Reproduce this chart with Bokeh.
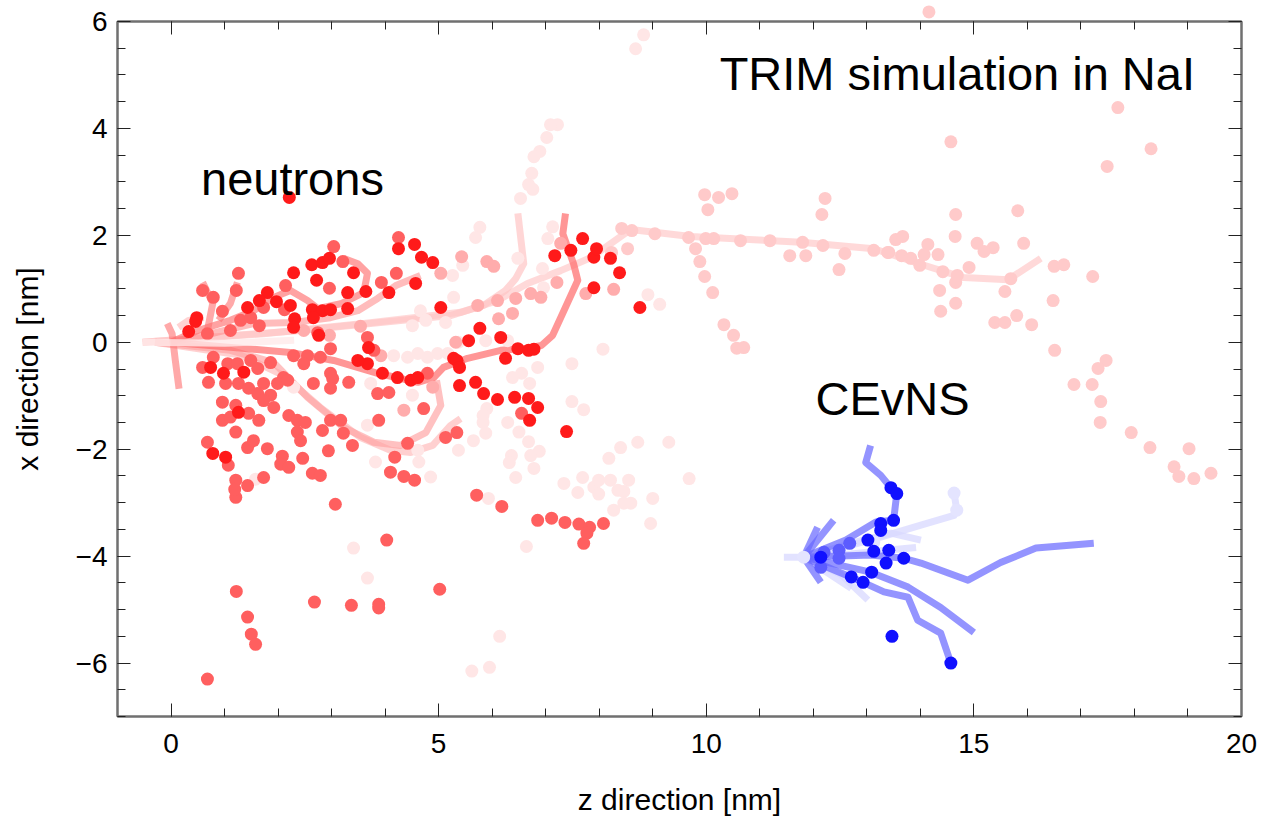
from bokeh.plotting import figure
from bokeh.models import Range1d, LinearAxis, FixedTicker, Label
from bokeh.embed import file_html
from bokeh.resources import INLINE

FONT = "Liberation Sans"

# ---------------------------------------------------------------- neutron recoils
# recoil positions (z, x) in nm, grouped by shade of the cascade they belong to
neutron_dark = [
    (4.25, 1.75), (4.55, 1.83), (4.68, 1.59), (4.89, 1.49), (2.63, 1.45), (2.83, 1.49),
    (2.96, 1.57), (3.41, 1.30), (2.29, 1.30), (2.72, 1.16), (3.30, 0.93), (3.64, 0.95),
    (4.07, 0.93), (4.57, 1.10), (1.80, 0.93), (1.65, 0.78), (1.97, 0.76), (2.23, 0.69),
    (1.43, 0.65), (2.64, 0.61), (2.83, 0.59), (2.98, 0.61), (3.30, 0.63), (2.66, 0.46),
    (2.31, 0.44), (0.48, 0.46), (0.46, 0.39), (0.33, 0.20), (2.76, 0.13), (3.69, -0.10),
    (5.28, -0.30), (3.95, -0.58), (4.23, -0.66), (4.48, -0.71), (4.61, -0.66), (3.67, -0.40),
    (3.49, -0.34), (0.74, -0.47), (0.98, -0.58), (1.36, -0.56), (1.26, -1.31), (0.78, -2.08),
    (1.02, -2.15), (5.04, 0.65), (5.77, 0.26), (5.56, 0.03), (5.34, -0.34), (5.39, -0.47),
    (5.39, -0.81), (6.48, -0.12), (6.68, -0.15), (6.78, -0.13), (5.69, -0.75), (5.84, -0.96),
    (6.10, -1.07), (6.42, -1.03), (6.68, -1.05), (6.85, -1.22), (6.70, -1.46), (7.17, 1.62),
    (7.47, 1.72), (7.90, 1.59), (8.21, 1.57), (8.38, 1.30), (7.90, 1.02), (8.76, 0.65),
    (7.39, -1.67), (7.69, 1.94), (7.95, 1.75), (6.16, 0.09), (6.25, -0.30), (2.21, 2.71),
    (2.29, 0.28),
]
neutron_medium = [
    (4.25, 1.96), (3.04, 1.79), (3.21, 1.51), (2.96, 1.01), (4.21, 1.29), (3.93, 1.12),
    (1.26, 1.29), (1.22, 0.97), (0.59, 0.97), (0.79, 0.84), (2.14, 1.06), (1.73, 0.65),
    (2.12, 0.61), (0.96, 0.58), (1.30, 0.41), (1.49, 0.46), (1.65, 0.31), (0.68, 0.16),
    (1.11, 0.22), (2.74, 0.18), (3.67, 0.09), (3.79, -0.15), (5.37, -0.40), (4.79, -0.58),
    (3.86, -0.96), (4.07, -0.94), (2.98, -0.12), (2.79, -0.28), (2.55, -0.25), (2.29, -0.25),
    (2.48, -0.40), (2.98, -0.58), (3.02, -0.68), (3.32, -0.75), (2.66, -0.77), (2.98, -0.86),
    (0.59, -0.47), (0.79, -0.28), (1.06, -0.40), (1.24, -0.40), (1.49, -0.34), (1.62, -0.49),
    (1.86, -0.38), (2.10, -0.66), (1.73, -0.77), (1.99, -0.77), (2.18, -0.71), (0.70, -0.75),
    (1.02, -0.77), (1.26, -0.77), (1.45, -0.86), (1.62, -0.96), (1.86, -0.99), (1.73, -1.09),
    (0.96, -1.12), (1.21, -1.18), (1.45, -1.33), (1.64, -1.46), (1.92, -1.22), (2.20, -1.37),
    (2.36, -1.46), (2.51, -1.50), (2.83, -1.65), (2.98, -1.46), (3.17, -1.46), (3.22, -1.70),
    (3.39, -1.93), (0.96, -1.46), (1.11, -1.40), (1.21, -1.68), (0.68, -1.87), (1.07, -2.30),
    (1.43, -1.97), (1.54, -1.84), (1.80, -1.99), (2.36, -1.68), (2.42, -1.84), (2.08, -2.13),
    (2.05, -2.28), (2.20, -2.34), (2.46, -2.17), (2.64, -2.45), (2.79, -2.49), (1.21, -2.58),
    (1.43, -2.68), (1.73, -2.53), (1.21, -2.90), (1.19, -2.75), (2.94, -2.03), (3.88, -1.46),
    (4.18, -2.15), (4.10, -2.43), (4.35, -2.51), (4.55, -2.58), (4.42, -1.89), (5.13, -1.78),
    (5.34, -1.69), (4.72, -1.24), (5.71, -2.86), (6.18, -3.07), (6.85, -3.33), (7.11, -3.29),
    (7.36, -3.37), (7.62, -3.40), (7.82, -3.46), (7.77, -3.57), (7.71, -3.76), (8.08, -3.39),
    (3.07, -3.03), (4.03, -3.70), (5.02, -4.62), (1.22, -4.66), (1.43, -5.14), (1.50, -5.46),
    (1.58, -5.65), (0.68, -6.30), (2.68, -4.86), (3.37, -4.92), (3.88, -4.90), (3.88, -4.97),
    (6.55, -1.33),
]
neutron_medium_far = [(-2.05, -2.19), (-1.73, -2.11)]
neutron_salmon = [
    (5.04, 1.29), (5.43, 1.60), (5.90, 1.51), (6.03, 1.42), (5.73, 0.69), (6.10, 0.78),
    (6.38, 0.54), (6.72, 0.91), (6.44, 0.82), (6.12, 0.44), (6.91, 0.84), (7.21, 1.12),
    (7.75, 0.91), (8.27, 0.99), (7.28, 1.85), (2.96, 0.13), (2.48, 0.22), (3.54, 0.30),
    (3.92, -0.25), (5.32, 0.00), (4.35, -1.27), (4.89, -0.84),
]
neutron_pink = [
    (8.23, 1.68), (8.53, 1.75), (8.42, 2.13), (8.61, 2.09), (9.04, 2.03), (9.67, 1.96),
    (9.99, 1.94), (10.14, 1.94), (10.64, 1.90), (11.19, 1.90), (11.80, 1.87), (12.18, 1.81),
    (13.13, 1.72), (13.41, 1.68), (9.80, 1.75), (9.88, 1.51), (9.97, 1.23), (10.12, 0.93),
    (10.33, 0.33), (10.51, 0.13), (10.57, -0.11), (10.70, -0.10), (9.97, 2.76), (10.23, 2.71),
    (10.48, 2.78), (10.03, 2.48), (12.22, 2.69), (12.16, 2.39), (11.56, 1.62), (11.86, 1.62),
    (12.59, 1.66), (12.48, 1.36), (13.54, 1.92), (14.57, 3.75), (17.69, 4.39), (18.31, 3.62),
    (17.49, 3.29), (14.66, 2.39), (15.82, 2.46), (14.65, 1.98), (15.93, 1.85), (15.06, 1.85),
    (15.36, 1.77), (15.19, 1.70), (13.67, 1.98), (13.39, 1.68), (13.65, 1.62), (13.82, 1.57),
    (14.14, 1.83), (14.07, 1.64), (14.33, 1.64), (13.99, 1.44), (14.42, 1.32), (14.69, 1.25),
    (14.91, 1.40), (16.50, 1.42), (16.68, 1.45), (17.22, 1.23), (15.69, 1.19), (14.36, 0.97),
    (14.66, 1.12), (14.38, 0.58), (14.66, 0.73), (15.58, 0.95), (15.39, 0.37), (15.58, 0.37),
    (15.80, 0.50), (16.08, 0.33), (16.48, 0.78), (16.51, -0.15), (17.47, -0.34), (17.32, -0.49),
    (16.87, -0.79), (17.21, -0.79), (17.37, -1.11), (17.36, -1.50), (17.94, -1.69), (18.29, -1.97),
    (19.02, -1.99), (18.74, -2.33), (18.83, -2.51), (19.11, -2.55), (19.43, -2.45),
]
neutron_pink_far = [(14.16, 6.18)]
neutron_pale = [
    (8.83, 5.75), (8.68, 5.49), (7.22, 4.07), (7.09, 4.07), (7.02, 3.83), (6.89, 3.57),
    (6.78, 3.47), (6.74, 3.16), (6.68, 2.95), (6.76, 2.86), (6.53, 2.69), (5.77, 2.15),
    (5.69, 1.96), (5.45, 1.44), (6.48, 1.57), (7.13, 2.16), (7.04, 1.94), (5.28, 0.84),
    (6.96, 1.02), (6.94, 1.38), (8.91, 0.89), (9.13, 0.71), (5.37, 0.00), (5.88, 0.03),
    (6.29, 0.03), (6.85, -0.47), (6.55, -0.58), (6.38, -0.66), (6.70, -0.77), (7.49, -0.40),
    (8.07, -0.13), (7.49, -1.11), (7.71, -1.26), (8.40, -1.97), (8.72, -1.87), (9.30, -1.87),
    (8.18, -2.17), (7.34, -2.64), (7.69, -2.53), (7.60, -2.81), (7.90, -2.71), (7.99, -2.58),
    (8.21, -2.58), (8.55, -2.58), (8.35, -2.77), (8.46, -2.79), (7.99, -2.84), (8.46, -3.01),
    (8.59, -3.01), (8.27, -3.14), (9.00, -2.92), (8.96, -3.39), (9.68, -2.55), (6.68, -1.86),
    (6.88, -2.04), (6.72, -2.12), (6.36, -2.12), (6.32, -2.25), (6.78, -2.36), (6.44, -2.53),
    (5.90, -1.24), (5.83, -1.37), (5.83, -1.50), (6.29, -1.50), (6.50, -1.68), (5.88, -1.70),
    (5.65, -1.84), (5.37, -2.02), (5.93, -2.92), (6.14, -5.50), (5.95, -6.08), (5.62, -6.15),
    (3.41, -3.85), (3.67, -4.41), (6.64, -3.82), (4.16, -0.25), (4.42, -0.28), (4.61, -0.21),
    (4.79, -0.28), (4.98, -0.21), (5.17, -0.21), (3.73, -0.77), (4.51, -0.99), (3.67, -1.55),
    (3.82, -2.24), (4.61, -2.02), (4.63, -2.24), (4.85, -2.52), (1.58, -2.56), (2.29, -0.84),
    (5.26, 1.25), (4.66, 0.59), (4.76, 0.41), (5.13, 0.37), (4.51, 0.31),
]
neutron_pale_far = [(5.97, -7.79)]

# primary ion paths of the neutron-induced cascades, (z, x) vertices in nm
track_lower = [(0.0, 0.0), (1.17, -0.10), (2.23, -0.19), (3.04, -0.34), (3.86, -0.58),
               (4.61, -0.75), (4.91, -0.66), (5.09, -0.47), (5.54, -0.30), (6.16, -0.15),
               (6.66, -0.11), (6.92, -0.06), (7.13, 0.13), (7.34, 0.59), (7.60, 1.16),
               (7.52, 1.47), (7.32, 2.03), (7.37, 2.41)]
track_loop_a = [(-0.3, 0.0), (1.11, -0.15), (1.92, -0.38), (2.55, -1.03), (3.22, -1.59),
                (3.79, -1.87), (4.29, -1.93), (4.76, -1.69), (5.04, -1.18), (4.96, -0.71)]
track_loop_b = [(-0.3, 0.0), (1.30, -0.24), (2.10, -0.62), (2.79, -1.22), (3.54, -1.78),
                (4.10, -2.02), (4.48, -2.06), (4.89, -1.93), (5.22, -1.56), (5.41, -1.43)]
track_upper = [(0.0, 0.0), (0.50, 0.22), (1.11, 0.41), (1.54, 0.59), (1.92, 0.84),
               (2.23, 0.97), (2.55, 0.78), (2.74, 0.63), (3.17, 0.72), (3.60, 0.93),
               (3.67, 1.29), (3.49, 1.47), (3.22, 1.57)]
track_mid = [(0.0, 0.0), (0.74, 0.16), (1.54, 0.35), (2.29, 0.37), (2.98, 0.46),
             (3.49, 0.59), (3.86, 0.82), (4.20, 1.06), (4.66, 1.25)]
track_long = [(-0.53, 0.0), (1.73, 0.16), (3.60, 0.35), (5.41, 0.56), (6.10, 0.78),
              (6.66, 1.10), (7.28, 1.34), (7.84, 1.58), (8.59, 2.11), (9.71, 1.98),
              (11.77, 1.87), (13.13, 1.75), (14.07, 1.44), (14.81, 1.21), (15.64, 1.17),
              (16.25, 1.57)]
track_rise = [(-0.53, 0.0), (2.42, 0.22), (5.22, 0.50), (5.84, 0.69), (6.25, 0.97),
              (6.44, 1.19), (6.59, 1.47), (6.48, 2.41)]
track_entry = [(-0.53, 0.0), (1.0, -0.02), (2.3, 0.04)]
spike_a = [(-0.07, 0.35), (0.02, 0.16), (0.08, -0.34), (0.15, -0.87)]
spike_b = [(0.59, 1.12), (0.78, 0.73), (0.68, 0.22)]
spike_c = [(1.24, 1.12), (1.11, 0.73), (0.89, 0.41)]
spike_d = [(0.14, 0.28), (0.33, 0.41), (0.61, 0.46)]

# ---------------------------------------------------------------- CEvNS recoils
cevns_tracks = [
    [(11.82, -4.02), (12.61, -3.70), (13.17, -3.36), (13.50, -3.33), (13.56, -2.83),
     (13.45, -2.72), (13.26, -2.49), (12.98, -2.25), (13.07, -1.93)],
    [(11.82, -4.02), (13.07, -3.98), (13.69, -4.04), (14.01, -4.13), (14.89, -4.45),
     (15.50, -4.12), (16.16, -3.85), (17.24, -3.76)],
    [(11.82, -4.02), (13.07, -4.30), (13.77, -4.58), (14.38, -4.96), (15.00, -5.43)],
    [(11.82, -4.02), (12.93, -4.49), (13.32, -4.67), (13.77, -4.77), (13.95, -5.20),
     (14.38, -5.44), (14.57, -6.00)],
    [(11.82, -4.02), (12.08, -3.46)],
    [(11.82, -4.02), (12.38, -3.33)],
    [(11.82, -4.02), (12.14, -4.49)],
]
cevns_faint_tracks = [
    [(11.45, -4.02), (11.82, -4.02), (13.07, -3.70), (14.01, -3.42), (14.63, -3.24),
     (14.68, -3.14), (14.63, -2.82)],
    [(11.82, -4.02), (12.71, -3.96), (13.26, -3.90), (13.92, -3.84)],
    [(11.82, -4.02), (12.51, -4.34), (13.02, -4.82)],
    [(11.82, -4.02), (12.93, -3.70), (13.45, -3.57), (14.01, -3.70)],
    [(11.82, -4.02), (12.71, -4.60)],
]
cevns_dark = [
    (13.45, -2.72), (13.56, -2.83), (13.50, -3.33), (13.26, -3.39), (13.26, -3.52),
    (13.02, -3.70), (13.41, -3.89), (13.13, -3.91), (13.36, -4.13), (13.69, -4.04),
    (12.14, -4.02), (12.71, -4.39), (12.93, -4.49), (13.09, -4.30), (13.47, -5.50),
    (14.57, -6.00),
]
cevns_medium = [(12.68, -3.76), (12.48, -3.89), (12.48, -4.04), (12.20, -3.93), (12.14, -4.21)]
cevns_pale = [(11.82, -4.02), (13.13, -3.74), (14.63, -2.82), (14.68, -3.14)]

x_major = [0, 5, 10, 15, 20]
x_minor = list(range(-1, 21))
y_major = [-6, -4, -2, 0, 2, 4, 6]
y_minor = [v / 2 for v in range(-14, 13)]


def split(pairs):
    return [p[0] for p in pairs], [p[1] for p in pairs]


p = figure(width=1281, height=832, x_range=Range1d(-1, 20), y_range=Range1d(-7, 6),
           output_backend="svg", toolbar_location=None,
           min_border_left=117, min_border_right=40, min_border_top=21, min_border_bottom=116)
p.background_fill_color = "white"
p.border_fill_color = "white"
p.xgrid.grid_line_color = None
p.ygrid.grid_line_color = None
p.outline_line_color = "#707070"
p.outline_line_width = 2

xt = FixedTicker(ticks=x_major, minor_ticks=x_minor)
yt = FixedTicker(ticks=y_major, minor_ticks=y_minor)


def style_axis(ax, ticker, show_labels):
    ax.ticker = ticker
    ax.axis_line_color = "#707070"
    ax.axis_line_width = 2
    ax.major_tick_in = 13
    ax.major_tick_out = 0
    ax.minor_tick_in = 8
    ax.minor_tick_out = 0
    ax.major_tick_line_color = "#222222"
    ax.minor_tick_line_color = "#222222"
    ax.major_tick_line_width = 1
    ax.minor_tick_line_width = 1
    if show_labels:
        ax.major_label_text_font = FONT
        ax.major_label_text_font_size = "28px"
        ax.major_label_text_color = "black"
        ax.axis_label_text_font = FONT
        ax.axis_label_text_font_size = "30px"
        ax.axis_label_text_font_style = "normal"
        ax.axis_label_text_color = "black"
    else:
        # mirrored frame axis: ticks only
        ax.major_label_overrides = {t: "" for t in ticker.ticks}
        ax.major_label_text_font_size = "0px"
        ax.major_label_standoff = 0


style_axis(p.xaxis[0], xt, True)
style_axis(p.yaxis[0], yt, True)
p.xaxis[0].axis_label = "z direction [nm]"
p.yaxis[0].axis_label = "x direction [nm]"
p.xaxis[0].major_label_standoff = 17
p.xaxis[0].axis_label_standoff = 27
p.yaxis[0].major_label_standoff = 10
p.yaxis[0].axis_label_standoff = 29
p.yaxis[0].major_label_overrides = {-6: "\u22126", -4: "\u22124", -2: "\u22122"}

top_axis = LinearAxis()
style_axis(top_axis, xt, False)
p.add_layout(top_axis, "above")
right_axis = LinearAxis()
style_axis(right_axis, yt, False)
p.add_layout(right_axis, "right")

LW = 7


def path(pts, color, alpha, width=LW):
    zs, xs = split(pts)
    p.line(zs, xs, line_color=color, line_alpha=alpha, line_width=width,
           line_cap="butt", line_join="round")


# neutron cascades: faint paths under the recoils
path(track_long, "#ffd0d0", 0.8)
path(track_rise, "#ffc4c4", 0.7)
path(track_loop_b, "#ffb0b0", 0.6)
path(track_loop_a, "#ffa0a0", 0.65)
path(track_mid, "#ff9090", 0.6)
path(track_upper, "#ff7070", 0.65)
path(track_lower, "#ff6a6a", 0.7)
for s in (spike_a, spike_b, spike_c):
    path(s, "#ff7070", 0.6)
path(spike_d, "#ffc0c0", 0.7)

DOT = 13


def dots(pts, color, **kw):
    zs, xs = split(pts)
    p.scatter(zs, xs, size=DOT, fill_color=color, line_color=None, **kw)


dots(neutron_pale, "#ffe6e6")
dots(neutron_pink, "#ffcaca")
dots(neutron_salmon, "#ffacac")
dots(neutron_medium, "#ff5f5f")
dots(neutron_dark, "#ff1a1a")
dots(neutron_pale_far, "#ffe6e6", level="overlay")
dots(neutron_pink_far, "#ffcaca", level="overlay")
dots(neutron_medium_far, "#ff5f5f", level="overlay")

path(track_entry, "#ffeaea", 0.8)

# CEvNS cascade
for t in cevns_faint_tracks:
    path(t, "#d8d8ff", 0.75)
for t in cevns_tracks:
    path(t, "#6666ff", 0.7)
dots(cevns_pale, "#e4e4ff")
dots(cevns_medium, "#5c5cff")
dots(cevns_dark, "#1010ff")

for txt, zx, xx in (("TRIM simulation in NaI", 10.25, 5.03),
                    ("neutrons", 0.56, 3.06),
                    ("CEvNS", 12.04, -1.06)):
    p.add_layout(Label(x=zx, y=xx, text=txt, text_font=FONT, text_font_size="47px",
                       text_color="black", text_baseline="alphabetic"))

open("out.html", "w").write(file_html(p, INLINE))
